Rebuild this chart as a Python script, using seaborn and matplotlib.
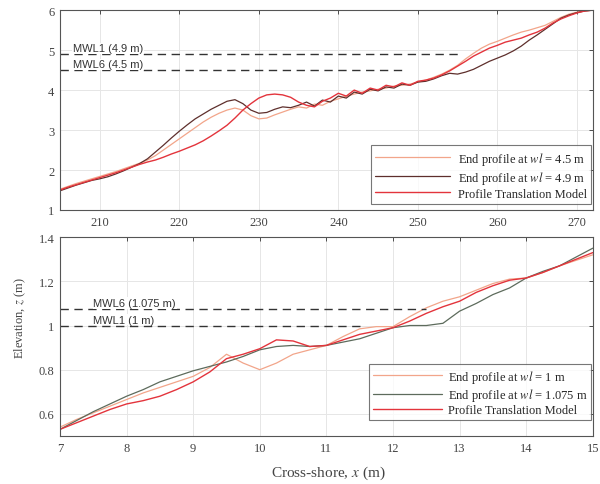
import matplotlib
matplotlib.use("Agg")
import matplotlib.pyplot as plt
import seaborn as sns
import numpy as np
from matplotlib.ticker import FuncFormatter

# ---------------- data ----------------
top_x = list(range(205, 273))
top_ptm = [1.50, 1.57, 1.63, 1.69, 1.75, 1.81, 1.87, 1.93, 2.00, 2.07, 2.14, 2.20, 2.25, 2.32, 2.40, 2.47,
           2.55, 2.63, 2.73, 2.85, 2.98, 3.12, 3.30, 3.50, 3.66, 3.80, 3.88, 3.90, 3.88, 3.82, 3.70, 3.62,
           3.58, 3.72, 3.80, 3.92, 3.85, 4.00, 3.92, 4.05, 4.00, 4.12, 4.08, 4.18, 4.12, 4.22, 4.25, 4.30,
           4.38, 4.48, 4.60, 4.72, 4.85, 4.95, 5.05, 5.12, 5.20, 5.25, 5.30, 5.38, 5.45, 5.55, 5.68, 5.78,
           5.86, 5.93, 5.98, 6.00]
top_wl49 = [1.48, 1.55, 1.62, 1.68, 1.74, 1.78, 1.83, 1.90, 1.98, 2.07, 2.16, 2.28, 2.45, 2.62, 2.80, 2.97,
            3.13, 3.28, 3.40, 3.52, 3.62, 3.72, 3.76, 3.66, 3.50, 3.42, 3.44, 3.52, 3.58, 3.56, 3.62, 3.70,
            3.60, 3.75, 3.70, 3.85, 3.80, 3.95, 3.90, 4.02, 3.98, 4.08, 4.05, 4.15, 4.12, 4.20, 4.22, 4.28,
            4.36, 4.42, 4.40, 4.45, 4.52, 4.62, 4.72, 4.80, 4.88, 4.98, 5.10, 5.25, 5.38, 5.52, 5.66, 5.80,
            5.88, 5.94, 5.98, 6.00]
top_wl45 = [1.52, 1.59, 1.66, 1.72, 1.78, 1.84, 1.90, 1.96, 2.03, 2.10, 2.17, 2.25, 2.36, 2.50, 2.64, 2.78,
            2.92, 3.06, 3.20, 3.32, 3.42, 3.50, 3.55, 3.50, 3.36, 3.28, 3.30, 3.38, 3.45, 3.52, 3.58, 3.55,
            3.65, 3.62, 3.72, 3.78, 3.85, 3.90, 3.95, 3.98, 4.02, 4.05, 4.10, 4.12, 4.15, 4.20, 4.25, 4.32,
            4.40, 4.50, 4.62, 4.78, 4.92, 5.05, 5.15, 5.22, 5.30, 5.38, 5.45, 5.50, 5.56, 5.62, 5.72, 5.82,
            5.90, 5.95, 5.98, 6.00]
top_mwl_levels = [4.9, 4.5]
top_mwl_ends = [255, 248]
top_mwl_labels = ["MWL1 (4.9 m)", "MWL6 (4.5 m)"]
top_legend = ["End profile at $wl$ = 4.5 m", "End profile at $wl$ = 4.9 m", "Profile Translation Model"]

bot_x = [7, 7.25, 7.5, 7.75, 8, 8.25, 8.5, 8.75, 9, 9.25, 9.5, 9.75, 10, 10.25, 10.5, 10.75, 11,
         11.25, 11.5, 11.75, 12, 12.25, 12.5, 12.75, 13, 13.25, 13.5, 13.75, 14, 14.25, 14.5, 14.75, 15]
bot_ptm = [0.53, 0.56, 0.59, 0.62, 0.645, 0.66, 0.68, 0.71, 0.745, 0.79, 0.85, 0.87, 0.895, 0.935, 0.93,
           0.905, 0.91, 0.935, 0.96, 0.975, 0.99, 1.02, 1.055, 1.085, 1.11, 1.15, 1.18, 1.205, 1.215, 1.24,
           1.27, 1.30, 1.33]
bot_wl1075 = [0.53, 0.57, 0.61, 0.645, 0.68, 0.71, 0.745, 0.77, 0.795, 0.815, 0.835, 0.86, 0.89, 0.905,
              0.91, 0.905, 0.91, 0.925, 0.94, 0.965, 0.99, 1.0, 1.0, 1.01, 1.065, 1.10, 1.14, 1.17, 1.215,
              1.245, 1.27, 1.31, 1.35]
bot_wl1 = [0.54, 0.575, 0.605, 0.635, 0.665, 0.695, 0.72, 0.745, 0.77, 0.81, 0.87, 0.83, 0.80, 0.83, 0.87,
           0.89, 0.91, 0.95, 0.985, 0.995, 0.995, 1.04, 1.08, 1.11, 1.13, 1.16, 1.19, 1.21, 1.215, 1.24,
           1.27, 1.295, 1.32]
bot_mwl_levels = [1.075, 1.0]
bot_mwl_ends = [12.5, 11.5]
bot_mwl_labels = ["MWL6 (1.075 m)", "MWL1 (1 m)"]
bot_legend = ["End profile at $wl$ = 1 m", "End profile at $wl$ = 1.075 m", "Profile Translation Model"]

top_xticks = [210, 220, 230, 240, 250, 260, 270]
top_yticks = [1, 2, 3, 4, 5, 6]
bot_xticks = [7, 8, 9, 10, 11, 12, 13, 14, 15]
bot_yticks = [0.6, 0.8, 1.0, 1.2, 1.4]

# ---------------- style ----------------
sns.set_style("white")
plt.rcParams["font.family"] = ["Liberation Serif", "DejaVu Serif"]
plt.rcParams["mathtext.fontset"] = "stix"

c_light = "#f2a58a"
c_red = "#e3343c"
c_dark_top = "#5e2f2c"
c_dark_bot = "#5d6b5c"

fig = plt.figure(figsize=(6.0, 4.85), dpi=100)
ax1 = fig.add_axes([0.100, 0.565, 0.888, 0.412])
ax2 = fig.add_axes([0.100, 0.099, 0.888, 0.410])

def style_axes(ax, xlim, ylim, xt, yt):
    ax.set_xlim(*xlim)
    ax.set_ylim(*ylim)
    ax.set_xticks(xt)
    ax.set_yticks(yt)
    ax.xaxis.set_major_formatter(FuncFormatter(lambda v, p: "%g" % v))
    ax.yaxis.set_major_formatter(FuncFormatter(lambda v, p: "%g" % v))
    ax.grid(True, color="#e6e6e6", linewidth=0.7)
    ax.tick_params(direction="in", top=True, right=True, length=3, width=0.6,
                   labelsize=9, colors="#333333", labelcolor="#444444", pad=4)
    for s in ax.spines.values():
        s.set_color("#555555")
        s.set_linewidth(0.8)
    ax.set_xlabel("")
    ax.set_ylabel("")

# top panel
sns.lineplot(x=top_x, y=top_wl45, ax=ax1, color=c_light, linewidth=0.9, label=top_legend[0])
sns.lineplot(x=top_x, y=top_wl49, ax=ax1, color=c_dark_top, linewidth=0.9, label=top_legend[1])
sns.lineplot(x=top_x, y=top_ptm, ax=ax1, color=c_red, linewidth=1.0, label=top_legend[2])
for lev, end, lab in zip(top_mwl_levels, top_mwl_ends, top_mwl_labels):
    ax1.plot([205, end], [lev, lev], color="#333333", linestyle=(0, (6, 4)), linewidth=1.0)
    ax1.text(206.6, lev + 0.02, lab, fontsize=8, family=["Liberation Sans", "DejaVu Sans"],
             color="#333333", va="bottom", ha="left",
             bbox=dict(facecolor="white", edgecolor="none", pad=0.5))
style_axes(ax1, (205, 272), (1, 6), top_xticks, top_yticks)
leg1 = ax1.legend(loc="lower right", bbox_to_anchor=(0.997, 0.03), borderaxespad=0, fontsize=9,
                  frameon=True, fancybox=False, edgecolor="#555555", handlelength=6.0, borderpad=0.35,
                  labelspacing=0.15, handletextpad=0.6)
leg1.get_frame().set_linewidth(0.8)

# bottom panel
sns.lineplot(x=bot_x, y=bot_wl1, ax=ax2, color=c_light, linewidth=0.9, label=bot_legend[0])
sns.lineplot(x=bot_x, y=bot_wl1075, ax=ax2, color=c_dark_bot, linewidth=0.9, label=bot_legend[1])
sns.lineplot(x=bot_x, y=bot_ptm, ax=ax2, color=c_red, linewidth=1.0, label=bot_legend[2])
for lev, end, lab in zip(bot_mwl_levels, bot_mwl_ends, bot_mwl_labels):
    ax2.plot([7, end], [lev, lev], color="#333333", linestyle=(0, (6, 4)), linewidth=1.0)
    ax2.text(7.5, lev + 0.004, lab, fontsize=8, family=["Liberation Sans", "DejaVu Sans"],
             color="#333333", va="bottom", ha="left",
             bbox=dict(facecolor="white", edgecolor="none", pad=0.5))
style_axes(ax2, (7, 15), (0.5, 1.4), bot_xticks, bot_yticks)
leg2 = ax2.legend(loc="lower right", bbox_to_anchor=(0.997, 0.08), borderaxespad=0, fontsize=9,
                  frameon=True, fancybox=False, edgecolor="#555555", handlelength=5.5, borderpad=0.3,
                  labelspacing=0.1, handletextpad=0.5)
leg2.get_frame().set_linewidth(0.8)

fig.text(0.033, 0.344, "Elevation, $z$ (m)", rotation=90, va="center", ha="center",
         fontsize=9, color="#444444")
fig.text(0.547, 0.025, "Cross-shore, $x$ (m)", va="center", ha="center",
         fontsize=11, color="#444444")

fig.savefig("out.png", dpi=100)
